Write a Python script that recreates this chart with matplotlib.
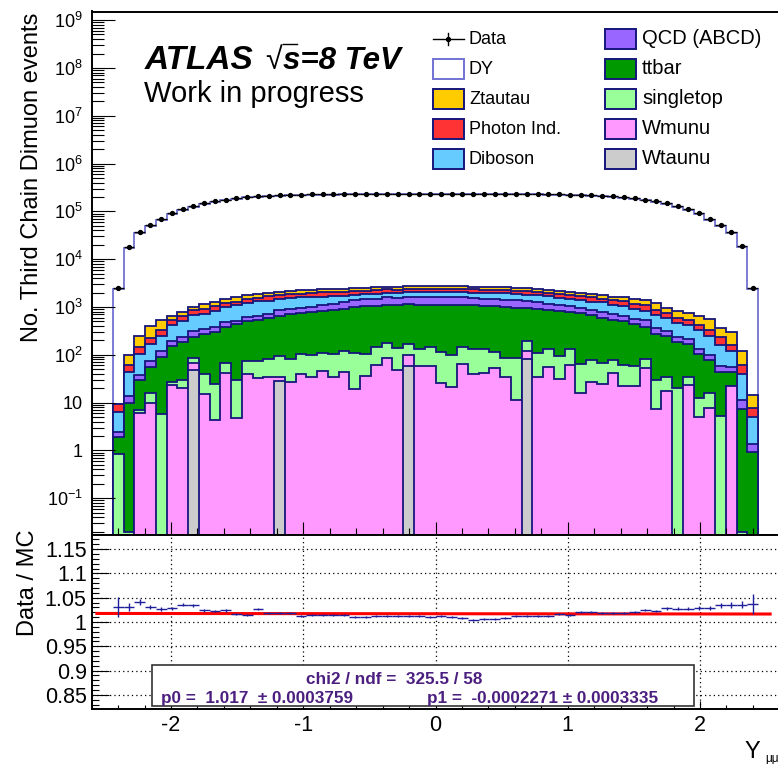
import numpy as np
import matplotlib.pyplot as plt
from matplotlib.patches import Rectangle
from matplotlib.ticker import FixedLocator, FixedFormatter, MultipleLocator, LogLocator, NullFormatter

plt.rcParams["font.family"] = ["Liberation Sans", "DejaVu Sans"]
plt.rcParams["mathtext.fontset"] = "custom"
plt.rcParams["mathtext.rm"] = "Liberation Sans"
plt.rcParams["mathtext.it"] = "Liberation Sans:italic"
plt.rcParams["mathtext.bf"] = "Liberation Sans:bold"
plt.rcParams["axes.unicode_minus"] = False

# binning of the dimuon rapidity
y_lo, y_hi, n_bins = -2.44, 2.44, 60

# observed events per bin
data_counts = np.array([
    2500, 18000, 37000, 52000, 69000, 92000, 112000, 129000, 147000, 162000,
    176000, 187000, 198000, 206000, 213000, 218000, 221000, 224000, 226000, 227000,
    228000, 228500, 229000, 229000, 229500, 229000, 229000, 229500, 229000, 229000,
    229000, 229000, 229500, 229000, 229000, 229000, 229000, 228500, 228000, 228000,
    227000, 226000, 224000, 221000, 218000, 213000, 206000, 197000, 187000, 175000,
    161000, 146000, 129000, 111000, 91000, 69000, 52000, 37000, 18500, 2450])

# data / MC
data_mc_ratio = np.array([
    1.031, 1.031, 1.041, 1.031, 1.027, 1.028, 1.035, 1.034, 1.024, 1.023,
    1.024, 1.017, 1.015, 1.027, 1.019, 1.019, 1.019, 1.013, 1.014, 1.014,
    1.014, 1.014, 1.010, 1.011, 1.012, 1.012, 1.012, 1.012, 1.012, 1.010,
    1.012, 1.011, 1.008, 1.005, 1.007, 1.006, 1.008, 1.012, 1.012, 1.012,
    1.013, 1.016, 1.014, 1.021, 1.020, 1.018, 1.019, 1.018, 1.021, 1.025,
    1.023, 1.028, 1.027, 1.027, 1.029, 1.029, 1.034, 1.035, 1.036, 1.037])

# cumulative stack tops (each includes everything below it)
top_wtaunu = np.array([
    0, 0, 0, 0, 0, 0, 0, 47, 0, 0,
    0, 0, 0, 0, 0, 28, 0, 0, 0, 0,
    0, 0, 0, 0, 0, 0, 0, 58, 0, 0,
    0, 0, 0, 0, 0, 0, 0, 0, 83, 0,
    0, 0, 0, 0, 0, 0, 0, 0, 0, 0,
    0, 0, 0, 0, 0, 0, 0, 0, 0, 0])
top_wmunu = np.array([
    0, 0, 6.0, 10, 0, 23, 20, 67, 15.3, 4.3,
    41, 4.8, 39, 33, 34, 35, 27, 40, 34, 45,
    34, 44, 19.5, 36, 62, 85, 47, 98, 58, 59,
    26, 21, 65, 39, 42, 53, 35, 11.4, 120, 34,
    55, 31, 62, 15.8, 27, 25, 41, 22.5, 22.5, 54,
    7.4, 17.4, 0, 23, 5.1, 7.8, 0, 22, 0, 0])
top_singletop = np.array([
    0.82, 0.02, 6.9, 15.7, 5.9, 27, 30, 87, 39, 24.4,
    68, 30, 74, 74, 83, 93, 83, 103, 98, 110,
    105, 120, 109, 105, 145, 178, 141, 171, 134, 145,
    114, 97, 145, 134, 130, 114, 85, 85, 195, 109,
    130, 94, 132, 65, 76, 67, 76, 60, 57, 83,
    30, 34, 20.5, 35, 12.4, 16, 5.2, 22, 0.02, 0])
top_ttbar = np.array([
    1.9, 9.8, 29, 55, 89, 150, 186, 240, 275, 300,
    383, 437, 520, 537, 590, 660, 700, 740, 780, 820,
    860, 920, 1000, 1030, 1060, 1090, 1080, 1130, 1120, 1100,
    1110, 1100, 1090, 1080, 1060, 1040, 1010, 970, 940, 900,
    860, 820, 790, 747, 670, 596, 540, 500, 440, 380,
    276, 247, 185, 165, 105, 76, 43.5, 43.5, 7.4, 0.92])
top_qcd = np.array([
    2.4, 13.6, 38, 73, 120, 191, 236, 309, 350, 383,
    484, 520, 630, 660, 724, 850, 900, 960, 1020, 1080,
    1150, 1270, 1400, 1450, 1500, 1580, 1550, 1620, 1640, 1610,
    1630, 1600, 1580, 1540, 1500, 1460, 1420, 1380, 1320, 1250,
    1180, 1080, 1030, 966, 870, 783, 700, 640, 560, 525,
    368, 314, 235, 210, 134, 97, 57, 55, 11.5, 1.34])
top_diboson = np.array([
    6.3, 43, 104, 170, 243, 412, 520, 665, 725, 810,
    1000, 1080, 1200, 1310, 1350, 1450, 1520, 1580, 1620, 1650,
    1680, 1700, 1800, 1850, 1900, 1980, 1960, 2050, 2080, 2060,
    2080, 2060, 2040, 2000, 1980, 1950, 1920, 1880, 1820, 1750,
    1680, 1560, 1480, 1400, 1300, 1250, 1120, 1050, 920, 822,
    667, 587, 461, 412, 324, 243, 157, 118, 40, 5.0])
top_photon = np.array([
    9.2, 60, 144, 228, 324, 537, 660, 850, 915, 1030,
    1200, 1300, 1440, 1560, 1660, 1750, 1850, 1900, 1980, 2020,
    2060, 2100, 2150, 2200, 2250, 2330, 2300, 2370, 2380, 2360,
    2390, 2370, 2350, 2320, 2300, 2260, 2240, 2200, 2150, 2050,
    1980, 1850, 1780, 1700, 1600, 1500, 1380, 1330, 1180, 1080,
    877, 759, 597, 525, 412, 324, 235, 157, 60, 7.8])
top_ztautau = np.array([
    9.2, 100, 243, 393, 536, 660, 775, 1020, 1170, 1250,
    1480, 1620, 1740, 1900, 1950, 2050, 2150, 2220, 2300, 2350,
    2400, 2420, 2450, 2500, 2560, 2650, 2620, 2700, 2700, 2680,
    2720, 2700, 2680, 2650, 2640, 2600, 2580, 2550, 2500, 2380,
    2300, 2150, 2060, 2000, 1900, 1800, 1650, 1600, 1450, 1375,
    1228, 966, 822, 747, 636, 568, 368, 299, 120, 14.1])

# fit of the ratio (pol1)
fit_p0, fit_p1 = 1.017, -0.0002271
fit_range = (-2.56, 2.53)

legend_left = ["Data", "DY", "Ztautau", "Photon Ind.", "Diboson"]
legend_right = ["QCD (ABCD)", "ttbar", "singletop", "Wmunu", "Wtaunu"]

colors = {
    "DY": "white", "Ztautau": "#ffcc00", "Photon Ind.": "#ff3333",
    "Diboson": "#66ccff", "QCD (ABCD)": "#9966ff", "ttbar": "#009900",
    "singletop": "#99ff99", "Wmunu": "#ff99ff", "Wtaunu": "#cccccc",
}
navy = "#16167c"
dy_line = "#7272d2"
fit_text_col = "#4b1f7f"

edges = np.linspace(y_lo, y_hi, n_bins + 1)
centers = 0.5 * (edges[1:] + edges[:-1])
half_w = 0.5 * (edges[1] - edges[0])
mc_total = data_counts / data_mc_ratio
ratio_err = np.sqrt(data_counts) / mc_total

W, H = 778, 764
fig = plt.figure(figsize=(W / 100, H / 100), dpi=100)


def px_box(x0, y0, x1, y1):
    return [x0 / W, 1 - y1 / H, (x1 - x0) / W, (y1 - y0) / H]


ax = fig.add_axes(px_box(91.6, 11.5, 779.4, 535))
axr = fig.add_axes(px_box(91.6, 535, 779.4, 709), sharex=ax)

# ---- stacked histogram ----
floor = 1e-4
layers = [
    (mc_total, colors["DY"], dy_line),
    (top_ztautau, colors["Ztautau"], navy),
    (top_photon, colors["Photon Ind."], navy),
    (top_diboson, colors["Diboson"], navy),
    (top_qcd, colors["QCD (ABCD)"], navy),
    (top_ttbar, colors["ttbar"], navy),
    (top_singletop, colors["singletop"], navy),
    (top_wmunu, colors["Wmunu"], navy),
    (top_wtaunu, colors["Wtaunu"], navy),
]
for top, face, edge in layers:
    ax.stairs(np.maximum(top, floor), edges, baseline=floor, fill=True,
              facecolor=face, edgecolor=edge, linewidth=1.3)

ax.errorbar(centers, data_counts, xerr=half_w, yerr=np.sqrt(data_counts),
            fmt="o", color="black", markersize=2.8, elinewidth=1.0, capsize=0,
            zorder=5)

ax.set_yscale("log")
ax.set_xlim(-2.6, 2.6)
ax.set_ylim(10 ** -1.77, 10 ** 9.18)

ytick_vals = [10.0 ** k for k in range(-1, 10)]
ytick_labels = [r"$10^{-1}$", "1", "10"] + [r"$10^{%d}$" % k for k in range(2, 10)]
ax.yaxis.set_major_locator(FixedLocator(ytick_vals))
ax.yaxis.set_major_formatter(FixedFormatter(ytick_labels))
ax.yaxis.set_minor_locator(LogLocator(base=10, subs=np.arange(2, 10), numticks=30))
ax.yaxis.set_minor_formatter(NullFormatter())
ax.tick_params(axis="y", which="major", direction="in", length=16.5, width=0.8,
               labelsize=13, pad=6.5, right=False)
ax.tick_params(axis="y", which="minor", direction="in", length=8.5, width=0.8,
               right=False)
ax.xaxis.set_major_locator(MultipleLocator(1))
ax.xaxis.set_minor_locator(MultipleLocator(0.2))
ax.tick_params(axis="x", which="major", direction="in", length=9.4, width=0.8,
               labelbottom=False, top=False)
ax.tick_params(axis="x", which="minor", direction="in", length=4.7, width=0.8,
               top=False)
for sp in ax.spines.values():
    sp.set_linewidth(1.4)

# ---- ratio panel ----
axr.errorbar(centers, data_mc_ratio, xerr=half_w, yerr=ratio_err, fmt="none",
             ecolor="#1f1f9c", elinewidth=1.0, capsize=0, zorder=4)
fx = np.array(fit_range)
axr.plot(fx, fit_p0 + fit_p1 * fx, color="#ff0000", linewidth=2.2, zorder=3)

axr.set_ylim(0.821, 1.179)
rt = [0.85, 0.9, 0.95, 1.0, 1.05, 1.1, 1.15]
axr.yaxis.set_major_locator(FixedLocator(rt))
axr.yaxis.set_major_formatter(FixedFormatter(["0.85", "0.9", "0.95", "1", "1.05", "1.1", "1.15"]))
axr.yaxis.set_minor_locator(MultipleLocator(0.01))
axr.tick_params(axis="y", which="major", direction="in", length=12, width=0.8,
                labelsize=15.5, pad=3.5, right=False)
axr.tick_params(axis="y", which="minor", direction="in", length=5, width=0.8,
                right=False)
axr.tick_params(axis="x", which="major", direction="in", length=6, width=0.8,
                labelsize=15.5, pad=4, top=False)
axr.tick_params(axis="x", which="minor", direction="in", length=3, width=0.8,
                top=False)
axr.set_xticks([-3, -2, -1, 0, 1, 2, 3])
axr.xaxis.set_major_formatter(FixedFormatter(["", "-2", "-1", "0", "1", "2", ""]))
axr.set_xlim(-2.6, 2.6)
axr.grid(True, which="major", linestyle=(0, (1, 2.5)), color="black", linewidth=0.9)
for sp in axr.spines.values():
    sp.set_linewidth(1.4)

# ---- overlay in pixel coordinates for texts and legend ----
ov = fig.add_axes([0, 0, 1, 1])
ov.set_xlim(0, W)
ov.set_ylim(H, 0)
ov.axis("off")

ov.text(145, 69, "ATLAS", fontsize=24, fontweight="bold", fontstyle="italic")
ov.text(265, 69, "\u221a", fontsize=22)
ov.plot([283, 297], [44, 44], color="black", linewidth=1.0)
ov.text(283, 69, "s=8 TeV", fontsize=22.5, fontweight="bold", fontstyle="italic")
ov.text(144, 101.5, "Work in progress", fontsize=21)

ov.text(38.5, 13, "No. Third Chain Dimuon events", fontsize=17, rotation=90,
        rotation_mode="anchor", ha="right", va="baseline")
ov.text(34, 530, "Data / MC", fontsize=17, rotation=90,
        rotation_mode="anchor", ha="right", va="baseline")
ov.text(745, 758.5, "Y", fontsize=17)
ov.text(765, 762, "\u03bc\u03bc", fontsize=8.5)

# legend
rows_y = [39, 69, 99, 129, 159]
for col_x, txt_x, names, fsize in [(433, 469, legend_left, 13), (605, 642, legend_right, 14.5)]:
    for yy, name in zip(rows_y, names):
        if name == "Data":
            ov.plot([col_x, col_x + 31], [yy, yy], color="black", linewidth=1.0)
            ov.plot([col_x + 15.5, col_x + 15.5], [yy - 6, yy + 6], color="black", linewidth=1.0)
            ov.plot(col_x + 15.5, yy, "o", color="black", markersize=2.8)
        else:
            edge = dy_line if name == "DY" else navy
            ov.add_patch(Rectangle((col_x, yy - 10), 31, 20, facecolor=colors[name],
                                   edgecolor=edge, linewidth=1.4))
        ov.text(txt_x, yy + 5.5, name, fontsize=fsize, va="baseline")

# fit statistics box
ov.add_patch(Rectangle((152, 665), 542, 40.5, facecolor="white", edgecolor="#333333",
                       linewidth=1.2, zorder=6))
ov.text(306, 684, "chi2 / ndf =  325.5 / 58", fontsize=12.3, fontweight="bold",
        color=fit_text_col, zorder=7)
ov.text(161, 702.5, "p0 =  1.017  \u00b1 0.0003759", fontsize=12.3, fontweight="bold",
        color=fit_text_col, zorder=7)
ov.text(427, 702.5, "p1 =  -0.0002271 \u00b1 0.0003335", fontsize=12.3, fontweight="bold",
        color=fit_text_col, zorder=7)

fig.savefig("out.png", dpi=100)
